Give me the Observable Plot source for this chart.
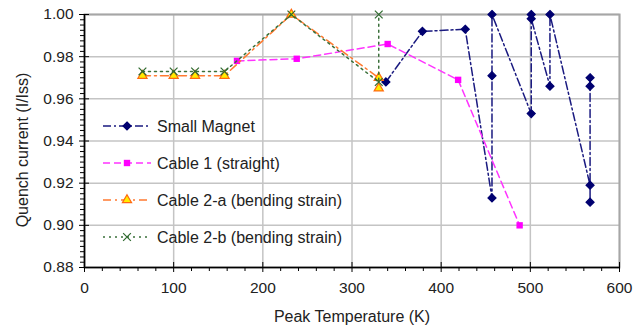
<!DOCTYPE html>
<html>
<head>
<meta charset="utf-8">
<script src="https://cdn.jsdelivr.net/npm/d3@7"></script>
<script src="https://cdn.jsdelivr.net/npm/@observablehq/plot@0.6"></script>
<style>
  html, body { margin: 0; padding: 0; background: #fff; }
  #chart { width: 644px; height: 325px; }
  svg { font-family: "Liberation Sans", Arial, sans-serif; }
</style>
</head>
<body>
<div id="chart"></div>
<script>
// ---- data ----
const smallT  = [338, 379, 427, 457, 457, 457, 501, 501, 501, 522, 522, 567, 567, 567, 567];
const smallI  = [0.968, 0.992, 0.993, 0.913, 0.971, 1.000, 0.953, 1.000, 0.998, 0.966, 1.000, 0.919, 0.911, 0.966, 0.970];
const cable1T = [171, 238, 340, 419, 488];
const cable1I = [0.978, 0.979, 0.986, 0.969, 0.900];
const cable2aT = [65, 100, 124, 157, 232, 330, 330];
const cable2aI = [0.971, 0.971, 0.971, 0.971, 1.000, 0.970, 0.965];
const cable2bT = [65, 100, 124, 157, 232, 330, 330];
const cable2bI = [0.973, 0.973, 0.973, 0.973, 1.000, 0.968, 1.000];
const seriesNames = ["Small Magnet", "Cable 1 (straight)", "Cable 2-a (bending strain)", "Cable 2-b (bending strain)"];
const xTicks = [0, 100, 200, 300, 400, 500, 600];
const xMinor = d3.range(0, 601, 20).filter(v => v % 100 !== 0);
const yTicks = [0.88, 0.90, 0.92, 0.94, 0.96, 0.98, 1.00];
const yMinor = d3.range(0, 48).map(i => 0.88 + i * 0.0025).filter((v, i) => i % 8 !== 0);
const xTitle = "Peak Temperature (K)";
const yTitle = "Quench current (I/Iss)";

const zip = (T, I) => T.map((t, i) => ({t, q: I[i]}));
const small = zip(smallT, smallI);
const c1 = zip(cable1T, cable1I);
const c2a = zip(cable2aT, cable2aI);
const c2b = zip(cable2bT, cable2bI);

const styles = [
  {stroke: "#1a1a80", dash: "8,3,2,3", symbol: "diamond2", fill: "#000070", mstroke: "#000070", r: 3.6},
  {stroke: "#ff33ff", dash: "7,4", symbol: "square", fill: "#ff00ff", mstroke: "none", r: 3.6},
  {stroke: "#ff7a30", dash: "8,4,2,4", symbol: "triangle", fill: "#ffee00", mstroke: "#ff6a10", r: 3.4},
  {stroke: "#3a703a", dash: "2,4", symbol: "times", fill: "none", mstroke: "#2f6a2f", r: 3.6}
];

const W = 644, H = 325;
const mL = 84, mR = 25, mT = 14, mB = 58;
const fw = W - mL - mR, fh = H - mT - mB;

const plot = Plot.plot({
  width: W, height: H,
  marginLeft: mL, marginRight: mR, marginTop: mT, marginBottom: mB,
  style: {fontFamily: "Liberation Sans, Arial, sans-serif", background: "#fff"},
  x: {domain: [0, 600]},
  y: {domain: [0.88, 1.00]},
  marks: [
    Plot.gridX(xTicks, {stroke: "#c4c4c4", strokeOpacity: 1, strokeWidth: 1.5}),
    Plot.gridY(yTicks, {stroke: "#c4c4c4", strokeOpacity: 1, strokeWidth: 1.5}),
    Plot.frame({stroke: "#a6a6a6", strokeWidth: 2}),
    // axes
    Plot.axisX(xTicks, {tickSize: 5, tickPadding: 9, fontSize: 15.5, fill: "#222", stroke: "#000", label: null, tickFormat: d => d}),
    Plot.axisX(xMinor, {tickSize: 4, text: null, label: null, stroke: "#000"}),
    Plot.tickX(xTicks, {x: d => d, insetTop: fh - 5, stroke: "#000"}),
    Plot.axisY(yTicks, {tickSize: 5, tickPadding: 6, fontSize: 15.5, fill: "#222", stroke: "#000", label: null, tickFormat: d => d.toFixed(2)}),
    Plot.axisY(yMinor, {tickSize: 4, text: null, label: null, stroke: "#000"}),
    Plot.tickY(yTicks, {y: d => d, insetRight: fw - 5, stroke: "#000"}),
    Plot.ruleX([0], {stroke: "#000", strokeWidth: 1.5}),
    Plot.ruleY([0.88], {stroke: "#000", strokeWidth: 1.5}),
    // titles
    Plot.text([xTitle], {frameAnchor: "bottom", dy: 49, text: d => d, fontSize: 16, fill: "#222", lineAnchor: "middle"}),
    Plot.text([yTitle], {frameAnchor: "left", rotate: -90, dx: -62, dy: 9, text: d => d, fontSize: 16, fill: "#222", textAnchor: "middle"}),
    // series
    ...[small, c1, c2a, c2b].flatMap((data, k) => {
      const s = styles[k];
      return [
        Plot.line(data, {x: "t", y: "q", stroke: s.stroke, strokeWidth: 1.5, strokeDasharray: s.dash}),
        Plot.dot(data, {x: "t", y: "q", symbol: () => s.symbol, r: s.r, fill: s.fill, stroke: s.mstroke, strokeWidth: 1.2})
      ];
    })
  ]
});

document.getElementById("chart").appendChild(plot);

// legend drawn inside the plot area
const svg = d3.select(plot);
const lg = svg.append("g").attr("transform", "translate(103,126)");
const symMap = {diamond2: d3.symbolDiamond2, square: d3.symbolSquare, triangle: d3.symbolTriangle, times: d3.symbolTimes};
seriesNames.forEach((name, k) => {
  const s = styles[k];
  const g = lg.append("g").attr("transform", `translate(0,${k * 37})`);
  g.append("line").attr("x1", 0).attr("x2", 48).attr("y1", 0).attr("y2", 0)
    .attr("stroke", s.stroke).attr("stroke-width", 1.5).attr("stroke-dasharray", s.dash);
  g.append("path").attr("transform", "translate(24,0)")
    .attr("d", d3.symbol(symMap[s.symbol], Math.PI * s.r * s.r)())
    .attr("fill", s.fill).attr("stroke", s.mstroke).attr("stroke-width", 1.2);
  g.append("text").attr("x", 54).attr("y", 0).attr("dy", "0.35em")
    .attr("text-anchor", "start")
    .attr("font-size", 16).attr("fill", "#222").text(name);
});
</script>
</body>
</html>
